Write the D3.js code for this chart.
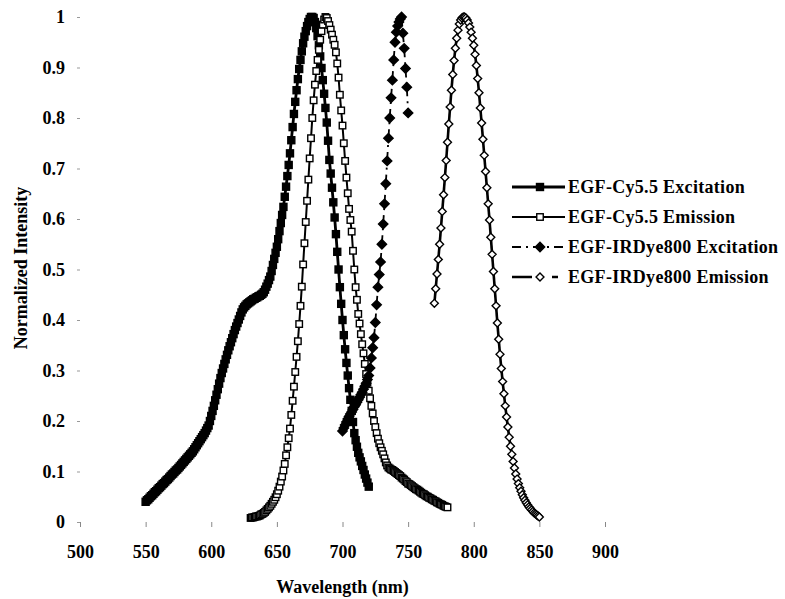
<!DOCTYPE html>
<html>
<head>
<meta charset="utf-8">
<script src="https://cdn.jsdelivr.net/npm/d3@7"></script>
<style>
  body { margin: 0; background: #fff; }
  svg text { font-family: "Liberation Serif", "DejaVu Serif", serif !important; font-weight: bold; fill: #000; }
</style>
</head>
<body>
<svg id="plot" width="785" height="599"></svg>
<script>
// axis ticks
var xTicks = [500, 550, 600, 650, 700, 750, 800, 850, 900];
var yTicks = [0, 0.1, 0.2, 0.3, 0.4, 0.5, 0.6, 0.7, 0.8, 0.9, 1];
var yTickLabels = ["0", "0.1", "0.2", "0.3", "0.4", "0.5", "0.6", "0.7", "0.8", "0.9", "1"];

var seriesNames = ["EGF-Cy5.5 Excitation", "EGF-Cy5.5 Emission",
                   "EGF-IRDye800 Excitation", "EGF-IRDye800 Emission"];

// first wavelength of each spectrum, sampled every 1 nm
var cyExStart = 550;
var cyEmStart = 630;
var irExStart = 700;
var irEmStart = 770;

// normalized intensities
var cyEx = [
  0.040, 0.043, 0.045, 0.048, 0.051, 0.053, 0.056, 0.059, 0.061, 0.064,
  0.067, 0.069, 0.072, 0.075, 0.077, 0.080, 0.083, 0.085, 0.088, 0.091,
  0.094, 0.096, 0.099, 0.102, 0.104, 0.107, 0.110, 0.113, 0.116, 0.119,
  0.122, 0.125, 0.128, 0.131, 0.134, 0.137, 0.140, 0.144, 0.148, 0.152,
  0.156, 0.160, 0.164, 0.168, 0.172, 0.176, 0.181, 0.186, 0.191, 0.200,
  0.210, 0.220, 0.230, 0.241, 0.252, 0.263, 0.274, 0.285, 0.295, 0.304,
  0.313, 0.322, 0.331, 0.340, 0.348, 0.356, 0.364, 0.372, 0.380, 0.387,
  0.394, 0.401, 0.408, 0.415, 0.421, 0.425, 0.428, 0.431, 0.433, 0.435,
  0.437, 0.439, 0.441, 0.442, 0.444, 0.445, 0.447, 0.448, 0.450, 0.452,
  0.455, 0.460, 0.466, 0.472, 0.479, 0.486, 0.497, 0.509, 0.521, 0.533,
  0.545, 0.560, 0.576, 0.592, 0.608, 0.624, 0.644, 0.664, 0.685, 0.707,
  0.730, 0.756, 0.782, 0.808, 0.832, 0.855, 0.877, 0.897, 0.915, 0.932,
  0.948, 0.961, 0.972, 0.982, 0.990, 0.996, 1.000, 1.000, 0.998, 0.990,
  0.978, 0.962, 0.944, 0.922, 0.899, 0.875, 0.848, 0.820, 0.791, 0.755,
  0.717, 0.690, 0.662, 0.633, 0.603, 0.570, 0.535, 0.500, 0.465, 0.432,
  0.400, 0.370, 0.342, 0.315, 0.290, 0.265, 0.242, 0.220, 0.198, 0.176,
  0.162, 0.149, 0.137, 0.128, 0.120, 0.111, 0.103, 0.094, 0.086, 0.078,
  0.070
];

var cyEm = [
  0.008, 0.009, 0.009, 0.010, 0.011, 0.011, 0.012, 0.013, 0.015, 0.016,
  0.018, 0.020, 0.023, 0.026, 0.029, 0.032, 0.036, 0.040, 0.044, 0.049,
  0.055, 0.062, 0.070, 0.080, 0.090, 0.102, 0.115, 0.132, 0.148, 0.166,
  0.185, 0.212, 0.240, 0.268, 0.297, 0.327, 0.358, 0.392, 0.428, 0.466,
  0.510, 0.552, 0.594, 0.636, 0.678, 0.720, 0.760, 0.800, 0.835, 0.866,
  0.893, 0.915, 0.935, 0.955, 0.972, 0.985, 0.995, 1.000, 0.998, 0.992,
  0.984, 0.975, 0.965, 0.955, 0.945, 0.930, 0.908, 0.880, 0.846, 0.815,
  0.785, 0.750, 0.715, 0.682, 0.651, 0.620, 0.598, 0.575, 0.537, 0.500,
  0.465, 0.440, 0.412, 0.393, 0.372, 0.352, 0.334, 0.313, 0.293, 0.276,
  0.260, 0.245, 0.230, 0.215, 0.200, 0.188, 0.176, 0.165, 0.156, 0.148,
  0.141, 0.134, 0.126, 0.118, 0.112, 0.108, 0.106, 0.104, 0.103, 0.101,
  0.099, 0.097, 0.095, 0.093, 0.091, 0.088, 0.086, 0.084, 0.081, 0.079,
  0.076, 0.075, 0.073, 0.071, 0.069, 0.067, 0.065, 0.064, 0.062, 0.060,
  0.058, 0.056, 0.055, 0.053, 0.051, 0.050, 0.048, 0.047, 0.045, 0.044,
  0.042, 0.041, 0.039, 0.038, 0.036, 0.035, 0.034, 0.032, 0.031, 0.030,
  0.029
];

var irEx = [
  0.180, 0.186, 0.192, 0.198, 0.204, 0.209, 0.214, 0.218, 0.223, 0.228,
  0.232, 0.237, 0.242, 0.247, 0.252, 0.257, 0.263, 0.269, 0.275, 0.282,
  0.290, 0.305, 0.325, 0.345, 0.365, 0.395, 0.430, 0.465, 0.490, 0.515,
  0.550, 0.590, 0.630, 0.670, 0.715, 0.760, 0.800, 0.840, 0.875, 0.915,
  0.950, 0.970, 0.982, 0.990, 0.996, 1.000, 0.968, 0.938, 0.898, 0.861,
  0.810
];

var irEm = [
  0.433, 0.462, 0.491, 0.520, 0.550, 0.582, 0.615, 0.648, 0.682, 0.716,
  0.752, 0.788, 0.822, 0.855, 0.886, 0.914, 0.938, 0.958, 0.974, 0.986,
  0.994, 0.998, 1.000, 1.000, 0.998, 0.994, 0.988, 0.980, 0.970, 0.958,
  0.944, 0.926, 0.904, 0.878, 0.850, 0.820, 0.790, 0.758, 0.726, 0.694,
  0.662, 0.630, 0.598, 0.564, 0.530, 0.496, 0.462, 0.428, 0.394, 0.362,
  0.332, 0.304, 0.278, 0.254, 0.230, 0.208, 0.188, 0.168, 0.150, 0.134,
  0.120, 0.107, 0.095, 0.085, 0.076, 0.068, 0.061, 0.054, 0.048, 0.043,
  0.038, 0.034, 0.030, 0.027, 0.024, 0.021, 0.018, 0.016, 0.014, 0.012,
  0.010
];

// pair wavelengths with values
function toPoints(start, values) {
  return values.map(function(v, i) { return [start + i, v]; });
}

var series = [
  { name: seriesNames[0], pts: toPoints(cyExStart, cyEx), shape: "square", fill: "#000", size: 7, lw: 2.8, dash: null },
  { name: seriesNames[1], pts: toPoints(cyEmStart, cyEm), shape: "square", fill: "#fff", size: 6.5, lw: 2, dash: null },
  { name: seriesNames[2], pts: toPoints(irExStart, irEx), shape: "diamond", fill: "#000", size: 6.5, lw: 1.8, dash: "9,5,2,5" },
  { name: seriesNames[3], pts: toPoints(irEmStart, irEm), shape: "diamond", fill: "#fff", size: 5.5, lw: 2.6, dash: "20,20,6,20" }
];

var svg = d3.select("#plot");

var xScale = d3.scaleLinear().domain([500, 900]).range([80, 605]);
var yScale = d3.scaleLinear().domain([0, 1]).range([522, 17]);

// axes: no domain line, tiny grey ticks
var xAxis = d3.axisBottom(xScale).tickValues(xTicks).tickSize(5).tickFormat(d3.format("d"));
var gx = svg.append("g").attr("transform", "translate(0,522)").call(xAxis);
gx.select(".domain").remove();
gx.selectAll(".tick line").attr("stroke", "#888");
gx.selectAll(".tick text")
  .attr("y", 36).attr("dy", null)
  .attr("font-size", "18px");

var yAxis = d3.axisLeft(yScale).tickValues(yTicks).tickSize(3).tickPadding(12)
  .tickFormat(function(d, i) { return yTickLabels[i]; });
var gy = svg.append("g").attr("transform", "translate(80,0)").call(yAxis);
gy.select(".domain").remove();
gy.selectAll(".tick line").attr("stroke", "#999");
gy.selectAll(".tick text")
  .attr("font-size", "18px");

// axis titles
svg.append("text")
  .attr("x", 342.5).attr("y", 593)
  .attr("text-anchor", "middle")
  .attr("font-size", "18px")
  .text("Wavelength (nm)");

svg.append("text")
  .attr("transform", "translate(27,268) rotate(-90)")
  .attr("text-anchor", "middle")
  .attr("font-size", "18px")
  .text("Normalized Intensity");

var line = d3.line()
  .x(function(d) { return xScale(d[0]); })
  .y(function(d) { return yScale(d[1]); });

function drawMarker(g, s, cx, cy) {
  var h = s.size / 2;
  if (s.shape === "square") {
    g.append("rect")
      .attr("x", cx - h).attr("y", cy - h)
      .attr("width", s.size).attr("height", s.size)
      .attr("fill", s.fill).attr("stroke", "#000").attr("stroke-width", 1.4);
  } else {
    h = s.size * 0.72;
    g.append("path")
      .attr("d", "M" + cx + "," + (cy - h) + "L" + (cx + h) + "," + cy +
                 "L" + cx + "," + (cy + h) + "L" + (cx - h) + "," + cy + "Z")
      .attr("fill", s.fill).attr("stroke", "#000").attr("stroke-width", 1.4);
  }
}

// lines then markers; dashed series restart the pattern on every segment
series.forEach(function(s) {
  var g = svg.append("g");
  if (s.dash) {
    d3.pairs(s.pts).forEach(function(seg) {
      g.append("path")
        .datum(seg)
        .attr("d", line)
        .attr("fill", "none")
        .attr("stroke", "#000")
        .attr("stroke-width", s.lw)
        .attr("stroke-dasharray", s.dash);
    });
  } else {
    g.append("path")
      .datum(s.pts)
      .attr("d", line)
      .attr("fill", "none")
      .attr("stroke", "#000")
      .attr("stroke-width", s.lw);
  }
  s.pts.forEach(function(d) {
    drawMarker(g, s, xScale(d[0]), yScale(d[1]));
  });
});

// legend
var legend = svg.append("g");
series.forEach(function(s, i) {
  var ly = 187 + i * 30;
  legend.append("line")
    .attr("x1", 512).attr("x2", 565)
    .attr("y1", ly).attr("y2", ly)
    .attr("stroke", "#000")
    .attr("stroke-width", s.lw)
    .attr("stroke-dasharray", s.dash);
  drawMarker(legend, s, 540, ly);
  legend.append("text")
    .attr("x", 568).attr("y", ly + 6)
    .attr("font-size", "18px")
    .attr("letter-spacing", "0.3px")
    .text(s.name);
});
</script>
</body>
</html>
